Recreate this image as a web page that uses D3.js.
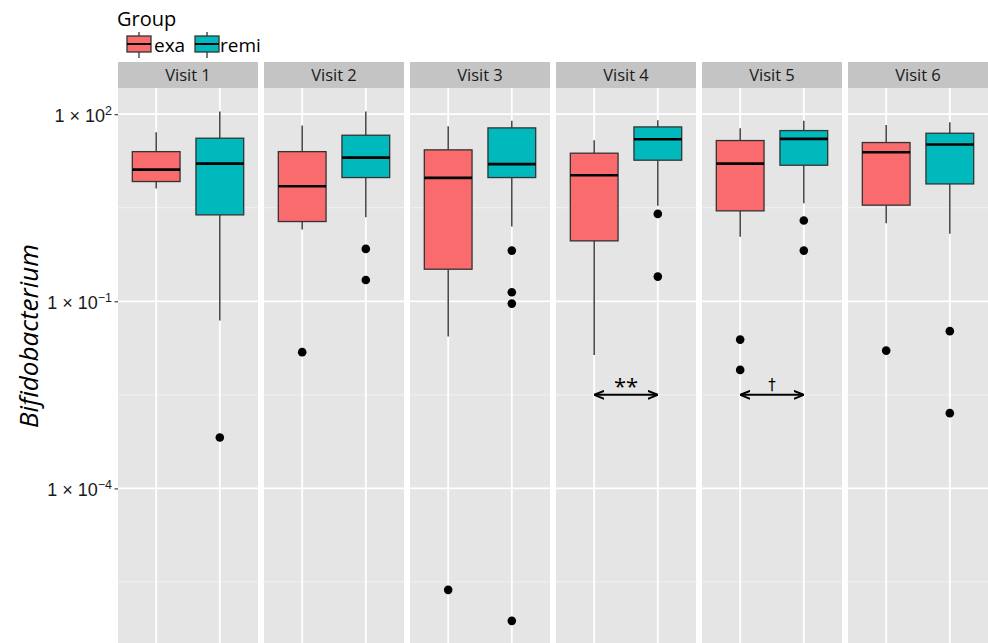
<!DOCTYPE html>
<html>
<head>
<meta charset="utf-8">
<script src="https://cdn.jsdelivr.net/npm/d3@7"></script>
<style>
  html, body { margin: 0; padding: 0; background: #fff; }
  svg { display: block; font-family: "Open Sans", sans-serif; }
</style>
</head>
<body>
<svg id="chart" width="988" height="643"></svg>
<script>
// Facets and groups
const visits = ["Visit 1", "Visit 2", "Visit 3", "Visit 4", "Visit 5", "Visit 6"];
const groups = ["exa", "remi"];
const groupColors = ["#fa6b6d", "#00b9bd"];

// Box statistics per visit: [lower whisker, Q1, median, Q3, upper whisker]
const exaStats = [
  [6.41, 8.32, 12.9, 25.1, 51.4],
  [1.41, 1.90, 7.01, 25.1, 65.6],
  [0.0272, 0.327, 9.53, 26.8, 64.3],
  [0.0138, 0.931, 10.5, 23.7, 38.3],
  [1.08, 2.82, 16.1, 37.8, 59.6],
  [1.79, 3.48, 24.5, 35.1, 67.3]
];
const remiStats = [
  [0.0491, 2.43, 16.1, 41.2, 110],
  [2.23, 9.64, 20.1, 46.0, 110],
  [1.58, 9.64, 15.8, 60.3, 78.2],
  [3.39, 18.3, 39.7, 62.5, 80.2],
  [3.74, 15.2, 40.2, 54.6, 78.2],
  [1.21, 7.62, 32.6, 49.5, 74.5]
];
// Outliers per visit
const exaOutliers = [
  [],
  [0.0153],
  [2.36e-6],
  [],
  [0.0243, 0.00794],
  [0.0162]
];
const remiOutliers = [
  [0.000653],
  [0.692, 0.220],
  [0.650, 0.140, 0.0918, 7.52e-7],
  [2.52, 0.249],
  [1.97, 0.650],
  [0.0332, 0.00161]
];

// Significance brackets between exa and remi
const sigVisits = ["Visit 4", "Visit 5"];
const sigLabels = ["**", "\u2020"];
const sigLevel = [0.00316, 0.00316];

// Y axis
const yTickValues = [1e2, 1e-1, 1e-4];
const yTickExponents = ["2", "\u22121", "\u22124"];
const yMinorValues = [Math.pow(10, 0.5), Math.pow(10, -2.5), Math.pow(10, -5.5)];

const svg = d3.select("#chart");

const plotTop = 88, plotBottom = 646;
const y = d3.scaleLog()
  .domain([Math.pow(10, -6.527), Math.pow(10, 2.42)])
  .range([plotBottom, plotTop]);

const fx = d3.scaleBand()
  .domain(visits)
  .range([118, 988])
  .paddingInner(6 / 146)
  .paddingOuter(0);
const pw = fx.bandwidth();

const x = d3.scalePoint()
  .domain(groups)
  .range([0, pw])
  .padding(0.6);
const boxW = x.step() * 0.75;

const color = d3.scaleOrdinal().domain(groups).range(groupColors);

// arrow head used by the significance markers
const defs = svg.append("defs");
defs.append("marker")
  .attr("id", "arr")
  .attr("viewBox", "0 0 10 10")
  .attr("refX", 9).attr("refY", 5)
  .attr("markerWidth", 5).attr("markerHeight", 5)
  .attr("orient", "auto-start-reverse")
  .append("path")
  .attr("d", "M0,1 L10,5 L0,9")
  .attr("fill", "none")
  .attr("stroke", "#000")
  .attr("stroke-width", 2);

const stats = { exa: exaStats, remi: remiStats };
const outliers = { exa: exaOutliers, remi: remiOutliers };

visits.forEach((v, i) => {
  const g = svg.append("g").attr("transform", `translate(${fx(v)},0)`);

  // strip
  g.append("rect")
    .attr("x", 0).attr("y", 62)
    .attr("width", pw).attr("height", plotTop - 62)
    .attr("fill", "#c4c4c4");
  g.append("text")
    .attr("x", pw / 2).attr("y", 81)
    .attr("text-anchor", "middle")
    .attr("font-size", 16.5)
    .attr("fill", "#1a1a1a")
    .text(v);

  // panel background
  g.append("rect")
    .attr("x", 0).attr("y", plotTop)
    .attr("width", pw).attr("height", plotBottom - plotTop)
    .attr("fill", "#e5e5e5");

  // minor grid
  g.selectAll(".minor").data(yMinorValues).join("line")
    .attr("x1", 0).attr("x2", pw)
    .attr("y1", d => y(d)).attr("y2", d => y(d))
    .attr("stroke", "#f2f2f2").attr("stroke-width", 1);
  // major grid
  g.selectAll(".major").data(yTickValues).join("line")
    .attr("x1", 0).attr("x2", pw)
    .attr("y1", d => y(d)).attr("y2", d => y(d))
    .attr("stroke", "#fff").attr("stroke-width", 1.8);
  g.selectAll(".vgrid").data(groups).join("line")
    .attr("x1", d => x(d)).attr("x2", d => x(d))
    .attr("y1", plotTop).attr("y2", plotBottom)
    .attr("stroke", "#fff").attr("stroke-width", 1.8);

  groups.forEach(grp => {
    const s = stats[grp][i];
    const cx = x(grp);
    // whiskers
    g.append("line")
      .attr("x1", cx).attr("x2", cx)
      .attr("y1", y(s[0])).attr("y2", y(s[1]))
      .attr("stroke", "#333").attr("stroke-width", 1.4);
    g.append("line")
      .attr("x1", cx).attr("x2", cx)
      .attr("y1", y(s[3])).attr("y2", y(s[4]))
      .attr("stroke", "#333").attr("stroke-width", 1.4);
    // box
    g.append("rect")
      .attr("x", cx - boxW / 2)
      .attr("y", y(s[3]))
      .attr("width", boxW)
      .attr("height", y(s[1]) - y(s[3]))
      .attr("fill", color(grp))
      .attr("stroke", "#333").attr("stroke-width", 1.3);
    // median
    g.append("line")
      .attr("x1", cx - boxW / 2).attr("x2", cx + boxW / 2)
      .attr("y1", y(s[2])).attr("y2", y(s[2]))
      .attr("stroke", "#000").attr("stroke-width", 2.6);
    // outliers
    g.selectAll(null).data(outliers[grp][i]).join("circle")
      .attr("cx", cx).attr("cy", d => y(d))
      .attr("r", 4.3)
      .attr("fill", "#000");
  });

  // significance
  const si = sigVisits.indexOf(v);
  if (si >= 0) {
    const yy = y(sigLevel[si]);
    g.append("line")
      .attr("x1", x("exa") + 1).attr("x2", x("remi") - 1)
      .attr("y1", yy).attr("y2", yy)
      .attr("stroke", "#000").attr("stroke-width", 2)
      .attr("marker-start", "url(#arr)")
      .attr("marker-end", "url(#arr)");
    g.append("text")
      .attr("x", (x("exa") + x("remi")) / 2)
      .attr("y", si === 0 ? yy - 1 : yy - 5)
      .attr("text-anchor", "middle")
      .attr("font-family", si === 0 ? null : "DejaVu Sans, sans-serif")
      .attr("font-size", si === 0 ? 22 : 15)
      .attr("fill", "#000")
      .text(sigLabels[si]);
  }
});

// Y axis with ticks and labels
const yAxis = d3.axisLeft(y)
  .tickValues(yTickValues)
  .tickSize(3.5)
  .tickPadding(3)
  .tickFormat(() => "");
const ax = svg.append("g")
  .attr("transform", `translate(${fx(visits[0])},0)`)
  .call(yAxis);
ax.select(".domain").remove();
ax.selectAll(".tick line").attr("stroke", "#333").attr("stroke-width", 1.1);
ax.selectAll(".tick text").each(function (d, i) {
  const t = d3.select(this)
    .attr("font-size", 18)
    .attr("fill", "#1a1a1a")
    .attr("x", -6)
    .attr("dy", "0.38em");
  t.append("tspan").text("1 \u00d7 10");
  t.append("tspan")
    .attr("font-size", 12.5)
    .attr("dy", "-0.55em")
    .text(yTickExponents[i]);
});

// Y axis title
svg.append("text")
  .attr("transform", `translate(38,${336}) rotate(-90)`)
  .attr("text-anchor", "middle")
  .attr("font-size", 26)
  .attr("font-style", "italic")
  .attr("fill", "#000")
  .text("Bifidobacterium");

// Legend
const lg = svg.append("g");
lg.append("text")
  .attr("x", 117).attr("y", 26)
  .attr("font-size", 20)
  .attr("fill", "#000")
  .text("Group");
const keyPos = [127, 195];
const labPos = [154, 220];
groups.forEach((grp, i) => {
  const kx = keyPos[i], kw = 24;
  lg.append("line")
    .attr("x1", kx + kw / 2).attr("x2", kx + kw / 2)
    .attr("y1", 32).attr("y2", 58)
    .attr("stroke", "#333").attr("stroke-width", 1.3);
  lg.append("rect")
    .attr("x", kx).attr("y", 36)
    .attr("width", kw).attr("height", 16)
    .attr("fill", color(grp))
    .attr("stroke", "#333").attr("stroke-width", 1.3);
  lg.append("line")
    .attr("x1", kx).attr("x2", kx + kw)
    .attr("y1", 44).attr("y2", 44)
    .attr("stroke", "#000").attr("stroke-width", 2);
  lg.append("text")
    .attr("x", labPos[i]).attr("y", 52)
    .attr("font-size", 19)
    .attr("fill", "#000")
    .text(grp);
});
</script>
</body>
</html>
